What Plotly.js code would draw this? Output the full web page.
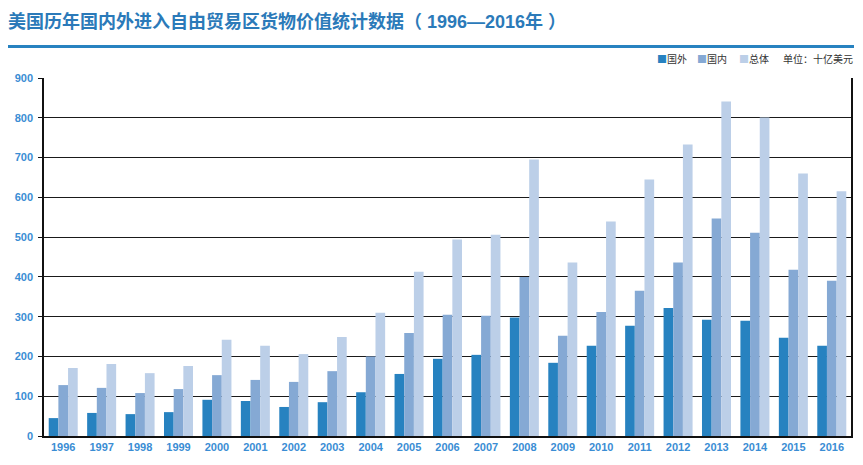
<!DOCTYPE html>
<html>
<head>
<meta charset="utf-8">
<script src="https://cdn.plot.ly/plotly-3.0.1.min.js"></script>
<style>html,body{margin:0;padding:0;background:#fff;}#chart{width:863px;height:465px;}</style>
</head>
<body>
<div id="chart"></div>
<script>
var years = ['1996','1997','1998','1999','2000','2001','2002','2003','2004','2005','2006','2007','2008','2009','2010','2011','2012','2013','2014','2015','2016'];
var foreignVals = [45, 58, 55, 60, 91, 88, 73, 85, 110, 156, 194, 204, 298, 184, 227, 277, 322, 292, 290, 247, 227];
var domesticVals = [128, 121, 108, 118, 153, 141, 136, 163, 200, 259, 305, 302, 400, 252, 312, 365, 436, 547, 511, 418, 390];
var totalVals = [171, 181, 158, 176, 242, 227, 206, 249, 310, 413, 494, 506, 695, 436, 539, 645, 733, 841, 801, 660, 615];
var seriesNames = ['国外', '国内', '总体'];
var yTicks = [0, 100, 200, 300, 400, 500, 600, 700, 800, 900];
var titleText = '美国历年国内外进入自由贸易区货物价值统计数据（ 1996—2016年 ）';
var unitText = '单位：十亿美元';

var colors = ['#2782c0', '#85a9d4', '#bccfe8'];
var FONT = 'Liberation Sans, Arial, Noto Sans CJK SC, sans-serif';
var CJK = 'Noto Sans CJK SC, sans-serif';

var L = 44, R = 851, T = 78, B = 436, W = 863, H = 465;
var pw = R - L, ph = B - T;
function px(x) { return (x - L) / pw; }
function py(y) { return (B - y) / ph; }

var seriesVals = [foreignVals, domesticVals, totalVals];
var traces = seriesVals.map(function (v, i) {
  return {
    type: 'bar', x: years, y: v, name: seriesNames[i],
    marker: { color: colors[i], line: { width: 0 } },
    showlegend: false, hoverinfo: 'x+y+name'
  };
});

var legendX = [655, 695, 737];
var annotations = seriesNames.map(function (n, i) {
  return {
    xref: 'paper', yref: 'paper', x: px(legendX[i]), y: py(59),
    xanchor: 'left', yanchor: 'middle', showarrow: false,
    text: '<span style="color:' + colors[i] + '">■</span>' + n,
    font: { family: CJK, size: 10, color: '#333333' }
  };
});
annotations.push({
  xref: 'paper', yref: 'paper', x: px(855), y: py(59),
  xanchor: 'right', yanchor: 'middle', showarrow: false,
  text: unitText, font: { family: CJK, size: 10, color: '#333333' }
});

var layout = {
  width: W, height: H,
  margin: { l: L, r: W - R, t: T, b: H - B, pad: 0 },
  paper_bgcolor: '#ffffff', plot_bgcolor: '#ffffff',
  title: {
    text: '<b>' + titleText + '</b>',
    xref: 'container', yref: 'container',
    x: 8 / W, xanchor: 'left', y: 1 - 22 / H, yanchor: 'middle',
    font: { family: FONT, size: 18, color: '#2b7ab9' }
  },
  barmode: 'group', bargap: 0.245, bargroupgap: 0,
  xaxis: {
    type: 'category', range: [-0.5, years.length - 0.5],
    showline: true, linecolor: '#111111', linewidth: 1.5,
    showgrid: false, ticks: '', zeroline: false,
    tickfont: { family: FONT, size: 11, color: '#3a8dd4', weight: 'bold' },
    fixedrange: true
  },
  yaxis: {
    range: [0, 900], tickvals: yTicks, ticktext: yTicks.map(String),
    showline: true, mirror: true, linecolor: '#111111', linewidth: 1.5,
    showgrid: true, gridcolor: '#1a1a1a', gridwidth: 1.2,
    ticks: 'outside', ticklen: 4, tickcolor: '#111111', tickwidth: 1.2,
    zeroline: false, ticklabelstandoff: 3,
    tickfont: { family: FONT, size: 11, color: '#3a8dd4', weight: 'bold' },
    fixedrange: true
  },
  shapes: [{
    type: 'rect', xref: 'paper', yref: 'paper',
    x0: px(8), x1: px(854), y0: py(48), y1: py(45),
    fillcolor: '#2782c0', line: { width: 0 }, layer: 'above'
  }],
  annotations: annotations,
  showlegend: false
};

Plotly.newPlot('chart', traces, layout, { displayModeBar: false, responsive: false });
</script>
</body>
</html>
